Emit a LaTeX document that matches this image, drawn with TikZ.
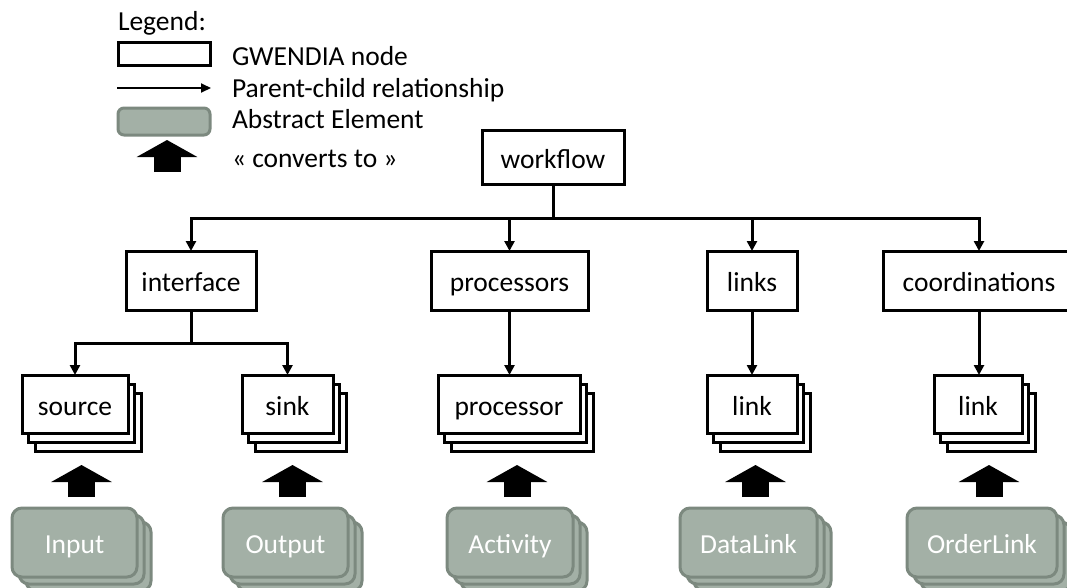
\documentclass[tikz,border=0pt]{standalone}
\usepackage{fontspec}
\setmainfont{Carlito}
\usetikzlibrary{arrows.meta,shadows,calc}
\definecolor{absfill}{HTML}{A3B0A6}
\definecolor{absdraw}{HTML}{7C897F}
\begin{document}
\begin{tikzpicture}[x=1pt,y=1pt,
  lbl/.style={font=\fontsize{27.5}{33}\selectfont},
  gwbox/.style={draw=black, fill=white, line width=3pt, inner sep=0pt, outer sep=0pt, lbl, text height=22pt, text depth=0pt, minimum height=59pt},
  wstack/.style={general shadow={shadow xshift=13pt, shadow yshift=-18pt, draw=black, fill=white},
                 general shadow={shadow xshift=6.5pt, shadow yshift=-9pt, draw=black, fill=white}},
  absbox/.style={draw=absdraw, fill=absfill, line width=3pt, rounded corners=10pt, text=white, inner sep=0pt, outer sep=0pt, lbl, text height=21.5pt, text depth=0pt, minimum height=69pt},
  gstack/.style={general shadow={shadow xshift=14pt, shadow yshift=-14pt, draw=absdraw, fill=absfill},
                 general shadow={shadow xshift=7pt, shadow yshift=-7pt, draw=absdraw, fill=absfill}},
  conn/.style={line width=3pt, -{Triangle[width=10pt,length=10pt]}},
  legarrow/.style={line width=2pt, -{Triangle[width=9pt,length=10pt]}},
  bigarrow/.style={line width=27pt, -{Triangle[width=60pt,length=17pt]}},
  txt/.style={lbl, anchor=base west, inner sep=0pt, outer sep=0pt}
]
\useasboundingbox (0,0) rectangle (1067,-587);
\clip (0,0) rectangle (1067,-587);

% Legend
\node[txt] (lg) at (118,-30) {Legend:};
\node[draw=black, line width=3pt, minimum width=92pt, minimum height=23pt, inner sep=0pt, outer sep=0pt] (lgnode) at (164,-53.5) {};
\node[txt] (lgt1) at (232,-65) {GWENDIA node};
\coordinate (la1) at (117,-88);
\coordinate (la2) at (211,-88);
\draw[legarrow] (la1) -- (la2);
\node[txt] (lgt2) at (232,-97) {Parent-child relationship};
\node[absbox, minimum width=92pt, minimum height=27pt, rounded corners=6pt] (lgabs) at (164,-121.5) {};
\node[txt] (lgt3) at (232,-128) {Abstract Element};
\coordinate (lb1) at (167,-172);
\coordinate (lb2) at (167,-140);
\draw[bigarrow] (lb1) -- (lb2);
\node[txt] (lgt4) at (232,-167) {« converts to »};

% Top
\node[gwbox, minimum width=142pt, minimum height=54pt] (wf) at (553,-157) {workflow};
\node[gwbox, minimum width=130pt] (iface) at (191,-280.5) {interface};
\node[gwbox, minimum width=157pt] (procs) at (509.5,-280.5) {processors};
\node[gwbox, minimum width=90pt] (links) at (752,-280.5) {links};
\node[gwbox, minimum width=192pt] (coord) at (979,-280.5) {coordinations};

% Stacked GWENDIA nodes
\node[gwbox, wstack, minimum width=106pt, minimum height=58pt] (src) at (75,-404) {source};
\node[gwbox, wstack, minimum width=91pt, minimum height=58pt] (sink) at (287.5,-404) {sink};
\node[gwbox, wstack, minimum width=142pt, minimum height=58pt] (proc) at (509,-404) {processor};
\node[gwbox, wstack, minimum width=90pt, minimum height=58pt] (link1) at (752,-404) {link};
\node[gwbox, wstack, minimum width=88pt, minimum height=58pt] (link2) at (978,-404) {link};

% Abstract elements
\node[absbox, gstack, minimum width=125pt] (inp) at (74.5,-542.5) {Input};
\node[absbox, gstack, minimum width=125pt] (out) at (285.5,-542.5) {Output};
\node[absbox, gstack, minimum width=126pt] (act) at (510,-542.5) {Activity};
\node[absbox, gstack, minimum width=137pt] (dl) at (748.5,-542.5) {DataLink};
\node[absbox, gstack, minimum width=150pt] (ol) at (982,-542.5) {OrderLink};

% Connectors
\draw[line width=3pt] (wf.south) -- ($(wf.south)+(0,-34)$) coordinate (bar);
\draw[conn] (bar) -| (iface.north);
\draw[conn] (bar) -| (procs.north);
\draw[conn] (bar) -| (links.north);
\draw[conn] (bar) -| (coord.north);

\draw[line width=3pt] (iface.south) -- ($(iface.south)+(0,-33)$) coordinate (ibar);
\draw[conn] (ibar) -| (src.north);
\draw[conn] (ibar) -| (sink.north);
\draw[conn] (procs.south) -- (procs.south |- proc.north);
\draw[conn] (links.south) -- (links.south |- link1.north);
\draw[conn] (coord.south) -- (coord.south |- link2.north);

% converts-to arrows
\foreach \g/\w in {inp/src, out/sink, act/proc, dl/link1, ol/link2}
  \draw[bigarrow] ($(\g.north)+(7,11)$) -- ($(\g.north |- \w.south)+(7,-32)$);
\end{tikzpicture}
\end{document}
